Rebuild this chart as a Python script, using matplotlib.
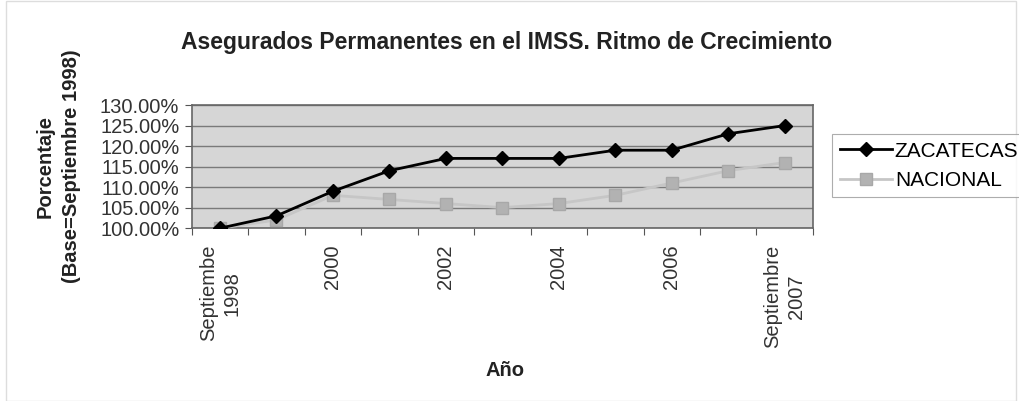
import matplotlib.pyplot as plt
from matplotlib.patches import Rectangle

# ======================================================
# DATA
# ======================================================

periodos = ["Septiembe\n1998", "1999", "2000", "2001", "2002", "2003",
            "2004", "2005", "2006", "2007", "Septiembre\n2007"]

zacatecas = [100, 103, 109, 114, 117, 117, 117, 119, 119, 123, 125]
nacional = [100, 102, 108, 107, 106, 105, 106, 108, 111, 114, 116]

yticks = [100, 105, 110, 115, 120, 125, 130]

# ======================================================
# FIGURE
# ======================================================

plt.rcParams["font.family"] = ["Liberation Sans", "DejaVu Sans"]

fig = plt.figure(figsize=(10.2, 4.01), dpi=100)
ax = fig.add_axes([0.188, 0.431, 0.609, 0.307])

ax.set_facecolor("#d6d6d6")

x = list(range(len(periodos)))

ax.plot(x, nacional, color="#c6c6c6", linewidth=2,
        marker="s", markersize=8, markerfacecolor="#b2b2b2",
        markeredgecolor="#a8a8a8", label="NACIONAL", zorder=3)
ax.plot(x, zacatecas, color="black", linewidth=2,
        marker="D", markersize=7.5, markerfacecolor="black",
        markeredgecolor="black", label="ZACATECAS", zorder=4)

ax.set_xlim(-0.5, len(periodos) - 0.5)
ax.set_ylim(100, 130)

ax.set_yticks(yticks)
ax.set_yticklabels([f"{v:.2f}%" for v in yticks], fontsize=14.5, color="#333333")

# ticks between categories, labels every other category
ax.set_xticks([i - 0.5 for i in range(len(periodos) + 1)])
ax.set_xticklabels([])
ax.set_xticks(x[::2], minor=True)
ax.set_xticklabels(periodos[::2], minor=True, rotation=90, fontsize=14.5,
                   color="#333333", va="top", ha="center", multialignment="center",
                   linespacing=1.3)
ax.tick_params(axis="x", which="minor", length=0, pad=12)
ax.tick_params(axis="x", which="major", length=5, color="#555555")
ax.tick_params(axis="y", length=5, color="#555555", pad=4)

ax.grid(axis="y", color="#7a7a7a", linewidth=1)
ax.set_axisbelow(True)

for s in ax.spines.values():
    s.set_color("#666666")
    s.set_linewidth(1.2)

# ======================================================
# LABELS
# ======================================================

fig.text(0.497, 0.893, "Asegurados Permanentes en el IMSS. Ritmo de Crecimiento",
         ha="center", va="center", fontsize=16.5, fontweight="bold", color="#222222")

fig.text(0.057, 0.585, "Porcentaje\n(Base=Septiembre 1998)", rotation=90,
         ha="center", va="center", multialignment="center", linespacing=1.5,
         fontsize=14.5, fontweight="bold", color="#222222")

fig.text(0.495, 0.077, "Año", ha="center", va="center", fontsize=14.5,
         fontweight="bold", color="#222222")

# ======================================================
# LEGEND
# ======================================================

handles, labels = ax.get_legend_handles_labels()
leg = fig.legend(handles[::-1], labels[::-1], loc="upper left",
                 bbox_to_anchor=(0.816, 0.665), fontsize=15, frameon=True,
                 fancybox=False, edgecolor="#999999", handlelength=2.5,
                 handletextpad=0.15, borderpad=0.35, labelspacing=0.5,
                 borderaxespad=0)
leg.get_frame().set_linewidth(0.8)

# outer chart border
fig.patches.append(Rectangle((0.006, 0.0), 0.99, 0.998, transform=fig.transFigure,
                             fill=False, edgecolor="#dddddd", linewidth=1))

plt.savefig("out.png", dpi=100)
